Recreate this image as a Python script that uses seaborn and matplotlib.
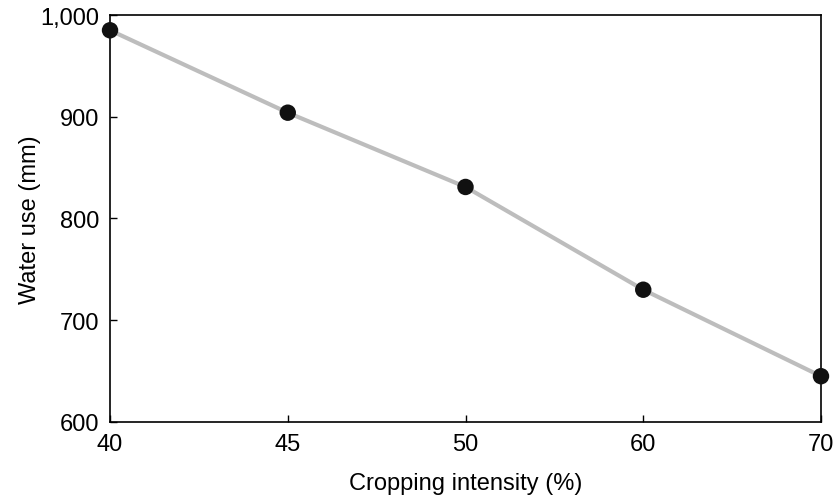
import numpy as np
import pandas as pd
import matplotlib
matplotlib.use("Agg")
import matplotlib.pyplot as plt
import seaborn as sns

# Dados
intensity = ["40", "45", "50", "60", "70"]
water_use = [985, 904, 831, 730, 645]

df = pd.DataFrame({"intensity": intensity, "water_use": water_use})

sns.set_style("ticks")
plt.rcParams["font.family"] = ["Liberation Sans", "DejaVu Sans"]
plt.rcParams["text.color"] = "black"
plt.rcParams["axes.labelcolor"] = "black"
plt.rcParams["xtick.color"] = "black"
plt.rcParams["ytick.color"] = "black"

fig = plt.figure(figsize=(8.38, 5.02), dpi=100)
ax = fig.add_axes([0.1313, 0.1574, 0.8484, 0.8107])

sns.lineplot(data=df, x="intensity", y="water_use", color="#bdbdbd",
             linewidth=3, sort=False, ax=ax, zorder=2)
sns.scatterplot(data=df, x="intensity", y="water_use", color="#111111",
                s=140, edgecolor="none", ax=ax, zorder=3, clip_on=False)

ax.set_xlim(0, len(intensity) - 1)
ax.set_ylim(600, 1000)
ax.set_yticks([600, 700, 800, 900, 1000])
ax.set_yticklabels(["600", "700", "800", "900", "1,000"])
ax.set_xlabel("Cropping intensity (%)", fontsize=17, labelpad=12)
ax.set_ylabel("Water use (mm)", fontsize=17, labelpad=-1)
ax.tick_params(direction="in", length=5, width=1, labelsize=17, pad=8)

for s in ax.spines.values():
    s.set_visible(True)
    s.set_linewidth(1.2)
    s.set_color("black")

fig.savefig("out.png", dpi=100)
